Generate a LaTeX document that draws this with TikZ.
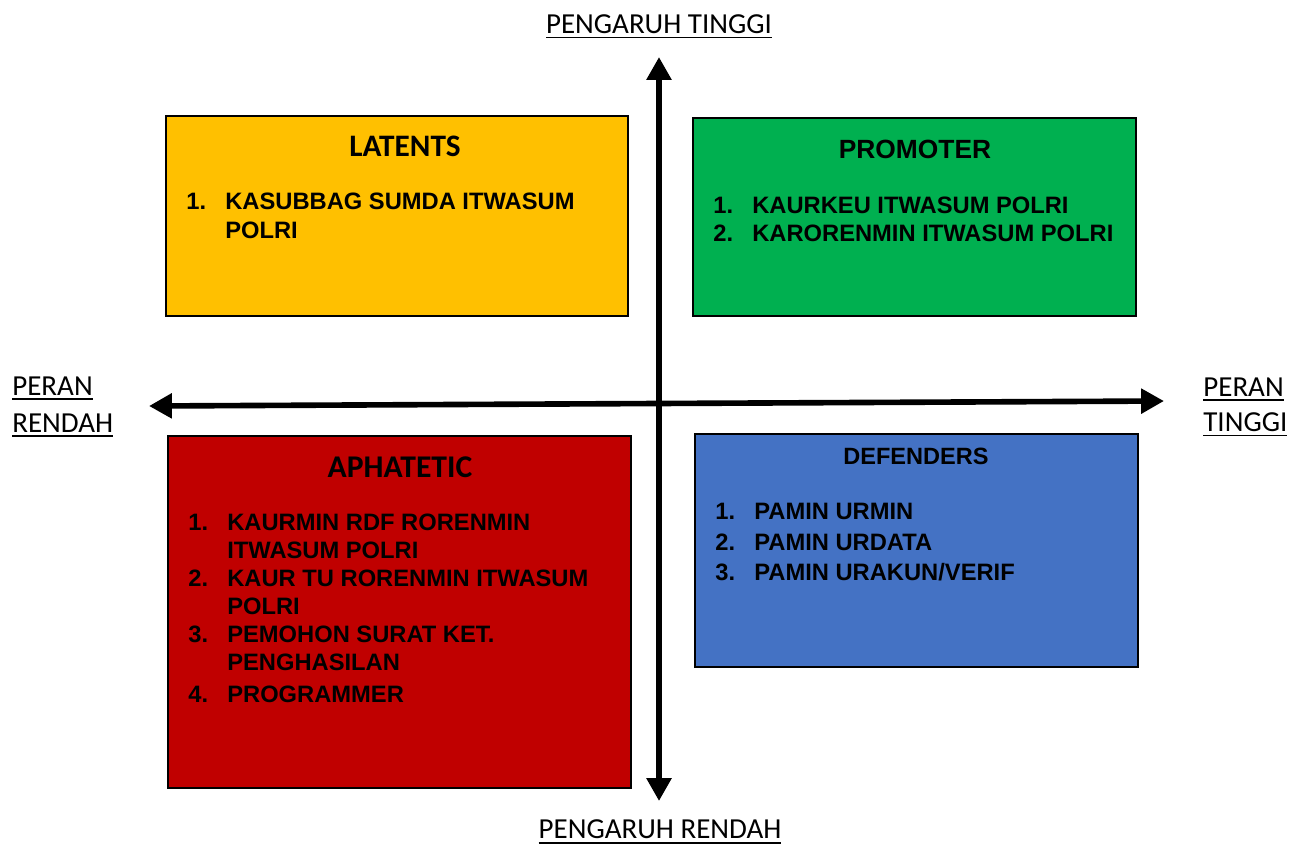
\documentclass[tikz,border=0pt]{standalone}
\usepackage{fontspec}
\setmainfont{Liberation Sans}
\newfontfamily\calibri{Carlito}
\usetikzlibrary{arrows.meta}

\definecolor{latentc}{HTML}{FFC000}
\definecolor{promoc}{HTML}{00B050}
\definecolor{aphac}{HTML}{C00000}
\definecolor{defc}{HTML}{4472C4}

\newcommand{\ulbl}[1]{\leavevmode\vtop{\hbox{#1}\kern1.9pt\hrule height 1.1pt}}
\newcommand{\lstfont}[1]{\bfseries\fontsize{13.5}{#1}\selectfont}

\begin{document}
\begin{tikzpicture}[x=0.02cm,y=-0.02cm,
    quad/.style={draw=black, line width=0.8pt, inner sep=0pt},
    axlabel/.style={font=\calibri\fontsize{16.5}{20}\selectfont, inner sep=0pt, anchor=base},
    items/.style={anchor=base west, inner sep=0pt},
    axis/.style={line width=3.2pt, {Triangle[width=13.6pt,length=13pt]}-{Triangle[width=13.6pt,length=13pt]}}]
    \useasboundingbox (0,0) rectangle (1301,846);
    % quadrants
    \node[quad, fill=latentc, minimum width=9.24cm, minimum height=4cm] (latents) at (397,216) {};
    \node[quad, fill=promoc, minimum width=8.86cm, minimum height=3.96cm] (promoter) at (914.5,217) {};
    \node[quad, fill=aphac, minimum width=9.26cm, minimum height=7.04cm] (aphatetic) at (399.5,612) {};
    \node[quad, fill=defc, minimum width=8.86cm, minimum height=4.66cm] (defenders) at (916.5,550.5) {};
    % titles
    \node[font=\calibri\bfseries\fontsize{17.8}{20}\selectfont] (latT) at (405,146) {LATENTS};
    \node[font=\bfseries\fontsize{15}{18}\selectfont] (proT) at (915,149) {PROMOTER};
    \node[font=\calibri\bfseries\fontsize{18}{20}\selectfont] (aphT) at (400,467) {APHATETIC};
    \node[font=\bfseries\fontsize{13.4}{16}\selectfont] (defT) at (916,456) {DEFENDERS};
    % member lists
    \node[items, font=\lstfont{16.5}] (latL) at (186,209.5) {\begin{tabular}[t]{@{}p{0.78cm}@{}l@{}}
        1. & KASUBBAG SUMDA ITWASUM\\
           & POLRI
      \end{tabular}};
    \node[items, font=\lstfont{15.9}] (proL) at (713,213.5) {\begin{tabular}[t]{@{}p{0.78cm}@{}l@{}}
        1. & KAURKEU ITWASUM POLRI\\
        2. & KARORENMIN ITWASUM POLRI
      \end{tabular}};
    \node[items, font=\lstfont{15.9}] (aphL) at (188,530.5) {\begin{tabular}[t]{@{}p{0.78cm}@{}l@{}}
        1. & KAURMIN RDF RORENMIN\\
           & ITWASUM POLRI\\
        2. & KAUR TU RORENMIN ITWASUM\\
           & POLRI\\
        3. & PEMOHON SURAT KET.\\
           & PENGHASILAN\\[2.3pt]
        4. & PROGRAMMER
      \end{tabular}};
    \node[items, font=\lstfont{17.4}] (defL) at (715,519.5) {\begin{tabular}[t]{@{}p{0.78cm}@{}l@{}}
        1. & PAMIN URMIN\\
        2. & PAMIN URDATA\\
        3. & PAMIN URAKUN/VERIF
      \end{tabular}};
    % axis labels
    \node[axlabel] (hiInf) at (659,33) {\ulbl{PENGARUH TINGGI}};
    \node[axlabel] (loInf) at (660,838) {\ulbl{PENGARUH RENDAH}};
    \node[axlabel, anchor=base west] (loRole1) at (12,395) {\ulbl{PERAN}};
    \node[axlabel, anchor=base west] (loRole2) at (12,432) {\ulbl{RENDAH}};
    \node[axlabel, anchor=base west] (hiRole1) at (1203,396) {\ulbl{PERAN}};
    \node[axlabel, anchor=base west] (hiRole2) at (1203,431) {\ulbl{TINGGI}};
    % axes
    \coordinate (vTop) at (659,57);
    \coordinate (vBot) at (659,801);
    \coordinate (hLeft) at (149,406);
    \coordinate (hRight) at (1164,401);
    \draw[axis] (vBot) -- (vTop);
    \draw[axis] (hLeft) -- (hRight);
\end{tikzpicture}
\end{document}
